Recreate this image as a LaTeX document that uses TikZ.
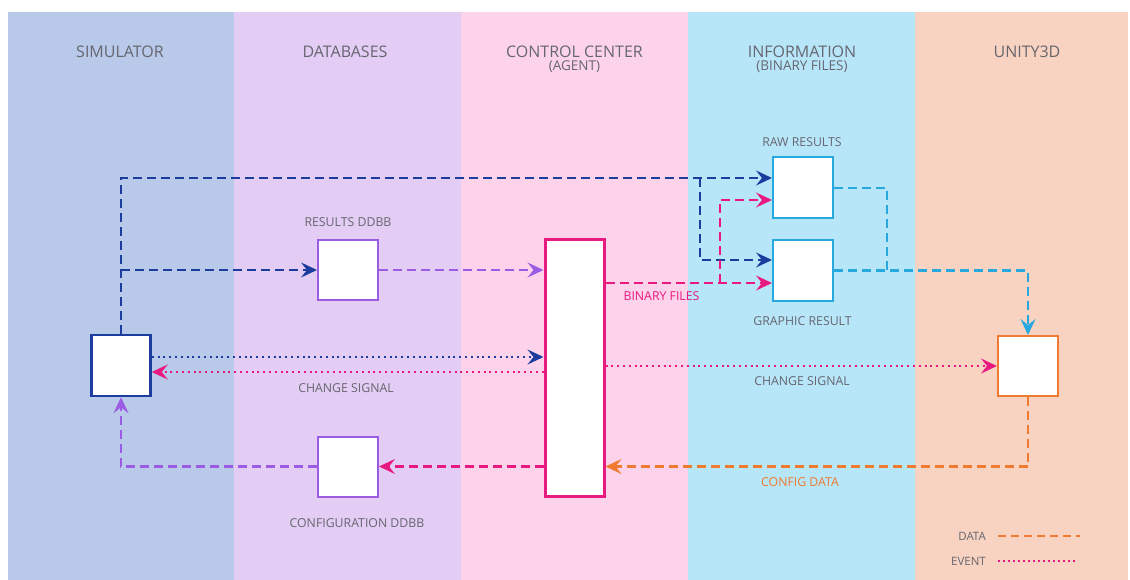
\documentclass[tikz,border=0pt]{standalone}
\usepackage{fontspec}
\setmainfont{Open Sans}
\usetikzlibrary{arrows.meta}

% lane backgrounds
\definecolor{simbg}{HTML}{B8C9E9}
\definecolor{dbbg}{HTML}{E3CDF5}
\definecolor{ccbg}{HTML}{FDD3EB}
\definecolor{infobg}{HTML}{B8E6F9}
\definecolor{unitybg}{HTML}{F9D3C1}
% strokes and text
\definecolor{dblue}{HTML}{1C3D9E}
\definecolor{purp}{HTML}{9B5CE3}
\definecolor{mag}{HTML}{E8197F}
\definecolor{cyanl}{HTML}{27A9DF}
\definecolor{orng}{HTML}{EE7B2F}
\definecolor{txt}{HTML}{66666F}

\tikzset{
  tip/.style={-{Stealth[length=16pt,width=15pt,inset=6pt]}},
  dataline/.style={line width=2.1pt, dash pattern=on 9pt off 5pt},
  eventline/.style={line width=2.2pt, dash pattern=on 2pt off 3.8pt},
  datarrow/.style={dataline, tip},
  eventarrow/.style={eventline, tip},
  box/.style={draw, fill=white, line width=2pt, minimum width=60, minimum height=60, inner sep=0pt},
  head/.style={text=txt, font=\fontsize{16}{18}\selectfont, anchor=base, inner sep=0pt},
  subhead/.style={text=txt, font=\fontsize{13.5}{15}\selectfont, anchor=base, inner sep=0pt},
  lbl/.style={text=txt, font=\fontsize{12.3}{14}\selectfont, anchor=base, inner sep=0pt},
  lgd/.style={text=txt, font=\fontsize{11.5}{13}\selectfont, anchor=base east, inner sep=0pt}
}

\begin{document}
\begin{tikzpicture}[x=1pt, y=-1pt]
\useasboundingbox (0,0) rectangle (1130,580);
\fill[white] (0,0) rectangle (1130,580);

% swim lanes
\fill[simbg]   (8,12)   rectangle (234,580);
\fill[dbbg]    (234,12) rectangle (461,580);
\fill[ccbg]    (461,12) rectangle (688,580);
\fill[infobg]  (688,12) rectangle (915,580);
\fill[unitybg] (915,12) rectangle (1128,580);

% lane titles
\node[head] (tsim)   at (120,57.5)  {SIMULATOR};
\node[head] (tdb)    at (345,57.5)  {DATABASES};
\node[head] (tcc)    at (574.5,57.5) {CONTROL CENTER};
\node[subhead] (tcc2) at (574.5,71) {(AGENT)};
\node[head] (tinfo)  at (802,57.5)  {INFORMATION};
\node[subhead] (tinfo2) at (802,71) {(BINARY FILES)};
\node[head] (tunity) at (1027,57.5) {UNITY3D};

% components
\node[box, draw=dblue, line width=2.5pt, minimum width=59, minimum height=61] (sim) at (121,365.5) {};
\node[box, draw=purp] (resdb) at (348,270) {};
\node[box, draw=purp] (cfgdb) at (348,466.5) {};
\node[box, draw=mag, line width=3pt, minimum width=59, minimum height=256] (cc) at (574.5,368) {};
\node[box, draw=cyanl, minimum height=61] (raw) at (803,187.5) {};
\node[box, draw=cyanl, minimum height=61] (graph) at (803,270.5) {};
\node[box, draw=orng] (unity) at (1028,366) {};

% component labels
\node[lbl] (lresdb) at (348,227) {RESULTS DDBB};
\node[lbl] (lcfgdb) at (357,527) {CONFIGURATION DDBB};
\node[lbl] (lraw) at (802,146.5) {RAW RESULTS};
\node[lbl] (lgraph) at (802.5,325.5) {GRAPHIC RESULT};
\node[lbl, text=mag] (lbin) at (661.5,300.5) {BINARY FILES};
\node[lbl] (lchg1) at (346,392.5) {CHANGE SIGNAL};
\node[lbl] (lchg2) at (802,385) {CHANGE SIGNAL};
\node[lbl, text=orng] (lcfg) at (800,486) {CONFIG DATA};

% split points on shared runs
\coordinate (bsplit) at (700,178);
\coordinate (msplit) at (720,283);
\coordinate (cjoin) at (887,270.5);

% simulator output to storage
\draw[datarrow, dblue] (sim.north) |- (raw.west |- 0,178);
\draw[datarrow, dblue] (sim.north |- resdb.west) -- (resdb.west);
\draw[datarrow, dblue] (bsplit) |- (graph.west |- 0,260);
\draw[datarrow, purp] (resdb.east) -- (cc.west |- resdb.east);

% binary files from the agent
\draw[datarrow, mag] (cc.east |- 0,283) -- (graph.west |- 0,283);
\draw[datarrow, mag] (msplit) |- (raw.west |- 0,200);

% results to Unity3D
\draw[dataline, cyanl] (raw.east |- 0,188) -| (cjoin);
\draw[datarrow, cyanl] (graph.east) -| (unity.north);

% change signals
\draw[eventarrow, dblue] (sim.east |- 0,357) -- (cc.west |- 0,357);
\draw[eventarrow, mag] (cc.west |- 0,372) -- (sim.east |- 0,372);
\draw[eventarrow, mag] (cc.east |- unity.west) -- (unity.west);

% configuration path back to the simulator
\draw[datarrow, orng] (unity.south) |- (cc.east |- 0,466.5);
\draw[datarrow, mag] (cc.west |- cfgdb.east) -- (cfgdb.east);
\draw[datarrow, purp] (cfgdb.west) -| (sim.south);

% legend
\node[lgd] (ldata) at (986,540) {DATA};
\node[lgd] (levent) at (986,565) {EVENT};
\coordinate (ld0) at (998,536);
\coordinate (ld1) at (1080,536);
\coordinate (le0) at (998,561);
\coordinate (le1) at (1077,561);
\draw[line width=1.6pt, dash pattern=on 8pt off 5pt, orng] (ld0) -- (ld1);
\draw[line width=1.8pt, dash pattern=on 1.8pt off 3.2pt, mag] (le0) -- (le1);
\end{tikzpicture}
\end{document}
